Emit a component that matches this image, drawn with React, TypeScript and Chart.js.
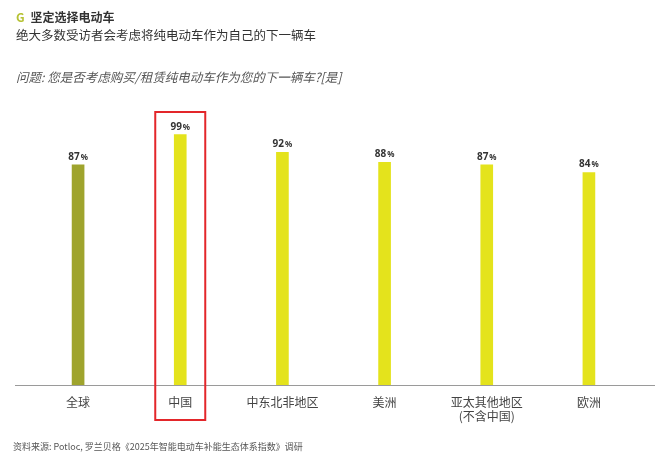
import { useEffect, useRef } from 'react';
import { Chart, registerables } from 'chart.js';

Chart.register(...registerables);

const categories: (string | string[])[] = ['全球', '中国', '中东北非地区', '美洲', ['亚太其他地区', '(不含中国)'], '欧洲'];
const values = [87, 99, 92, 88, 87, 84];
const barColors = ['#9FA42D', '#E4E31C', '#E4E31C', '#E4E31C', '#E4E31C', '#E4E31C'];

const FONT = '"Noto Sans CJK SC", "Noto Sans", sans-serif';

const overlay = {
  id: 'overlay',
  afterDatasetsDraw(chart: Chart) {
    const { ctx, scales } = chart;
    const x = scales.x;
    const y = scales.y;
    ctx.save();
    // value labels
    values.forEach((v, i) => {
      const cx = x.getPixelForValue(i);
      const top = y.getPixelForValue(v);
      ctx.fillStyle = '#333';
      ctx.textBaseline = 'alphabetic';
      const num = String(v);
      ctx.font = 'bold 10px "Noto Sans", sans-serif';
      const w1 = ctx.measureText(num).width;
      ctx.font = 'bold 8px "Noto Sans", sans-serif';
      const w2 = ctx.measureText('%').width;
      const start = cx - (w1 + w2 + 1) / 2;
      ctx.font = 'bold 10px "Noto Sans", sans-serif';
      ctx.textAlign = 'left';
      ctx.fillText(num, start, top - 5);
      ctx.font = 'bold 8px "Noto Sans", sans-serif';
      ctx.fillText('%', start + w1 + 1, top - 5);
    });
    // baseline
    const base = y.getPixelForValue(0);
    ctx.strokeStyle = '#9a9a9a';
    ctx.lineWidth = 1;
    ctx.beginPath();
    ctx.moveTo(15, base + 0.5);
    ctx.lineTo(655, base + 0.5);
    ctx.stroke();
    // highlight box around China
    const c = x.getPixelForValue(1);
    ctx.strokeStyle = '#E3262A';
    ctx.lineWidth = 2;
    ctx.strokeRect(c - 25, 112, 50, 308);
    ctx.restore();
  },
};

function BarChart() {
  const canvasRef = useRef<HTMLCanvasElement | null>(null);
  const chartRef = useRef<Chart | null>(null);

  useEffect(() => {
    const canvas = canvasRef.current;
    if (!canvas) return;
    chartRef.current?.destroy();
    chartRef.current = new Chart(canvas, {
      type: 'bar',
      data: {
        labels: categories,
        datasets: [{ data: values, backgroundColor: barColors, barThickness: 12 }],
      },
      options: {
        animation: false,
        responsive: false,
        layout: { padding: { left: 27, right: 20, top: 132, bottom: 0 } },
        plugins: { legend: { display: false }, tooltip: { enabled: false } },
        scales: {
          y: { display: false, min: 0, max: 100 },
          x: {
            grid: { display: false, drawTicks: false },
            border: { display: false },
            ticks: { padding: 10, color: '#444', font: { family: FONT, size: 12 } },
            afterFit: (scale: any) => {
              scale.height = 75;
            },
          },
        },
      },
      plugins: [overlay],
    });
    return () => {
      chartRef.current?.destroy();
      chartRef.current = null;
    };
  }, []);

  return <canvas ref={canvasRef} width={660} height={460} style={{ position: 'absolute', left: 0, top: 0 }} />;
}

export default function App() {
  return (
    <div style={{ position: 'fixed', left: 0, top: 0, width: 660, height: 460, background: '#fff', fontFamily: FONT, overflow: 'hidden' }}>
      <BarChart />
      <div style={{ position: 'absolute', left: 16, top: 8, fontSize: 12, fontWeight: 700, color: '#333', lineHeight: '18px' }}>
        <span style={{ color: '#B6C234', marginRight: 6 }}>G</span>坚定选择电动车
      </div>
      <div style={{ position: 'absolute', left: 16, top: 26, fontSize: 12.5, color: '#333', lineHeight: '18px' }}>
        绝大多数受访者会考虑将纯电动车作为自己的下一辆车
      </div>
      <div style={{ position: 'absolute', left: 16, top: 68, fontSize: 12.5, fontStyle: 'italic', color: '#555', lineHeight: '18px' }}>
        问题: 您是否考虑购买/租赁纯电动车作为您的下一辆车?[是]
      </div>
      <div style={{ position: 'absolute', left: 13, top: 440, fontSize: 9, color: '#555', lineHeight: '14px' }}>
        资料来源: Potloc, 罗兰贝格《2025年智能电动车补能生态体系指数》调研
      </div>
    </div>
  );
}
